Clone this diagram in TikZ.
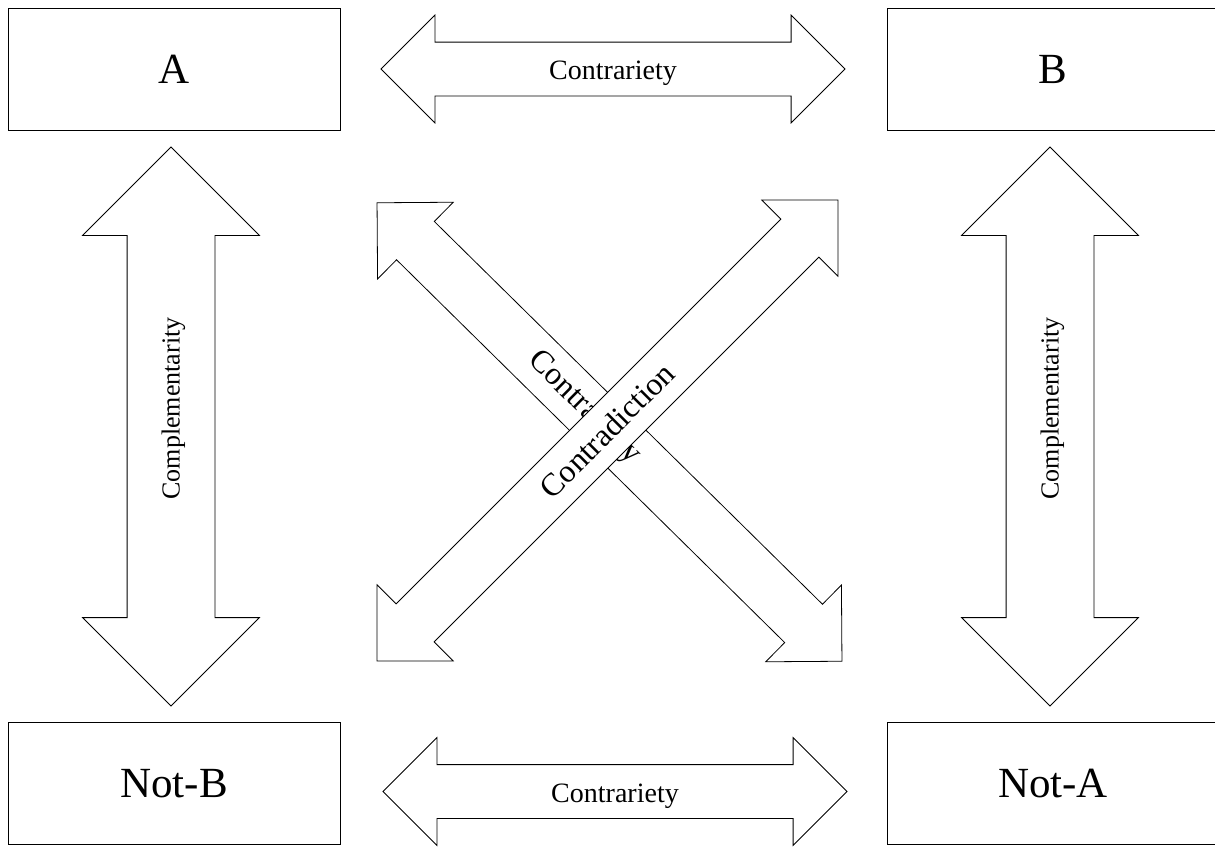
\documentclass[tikz,border=0pt]{standalone}
\usepackage{fontspec}
\setmainfont{Liberation Serif}
\usetikzlibrary{shapes.arrows, calc}

\begin{document}
\begin{tikzpicture}[x=1pt, y=-1pt,
    term/.style={draw, line width=1pt, minimum width=332pt, minimum height=122pt, inner sep=0pt, font=\fontsize{43}{50}\selectfont},
    rel/.style={draw, fill=white, double arrow, double arrow tip angle=90, inner sep=0pt, line width=0.8pt},
    flat/.style={rel, minimum width=107pt, double arrow head extend=27pt, text height=37pt, text depth=16pt},
    tall/.style={rel, minimum width=176pt, double arrow head extend=44.5pt, text height=52pt, text depth=35pt,
      minimum height=559pt, rotate=90, font=\fontsize{26}{30}\selectfont}]
  \useasboundingbox (0,0) rectangle (1215,847);
  % the four terms
  \node[term] (a)    at (174,69)     {A};
  \node[term] (b)    at (1053,69)    {B};
  \node[term] (notb) at (174,783.5)  {Not-B};
  \node[term] (nota) at (1053,783.5) {Not-A};
  % contrariety, top and bottom
  \node[flat, minimum height=464pt, font=\fontsize{28}{32}\selectfont] (ctop) at (613,69)    {Contrariety};
  \node[flat, minimum height=464pt, font=\fontsize{28}{32}\selectfont] (cbot) at (615,791.5) {Contrariety};
  % complementarity, left and right
  \node[tall] (cleft)  at (171,426.5)  {\hspace{36pt}Complementarity};
  \node[tall] (cright) at (1050,426.5) {\hspace{36pt}Complementarity};
  % the two diagonals, contradiction on top
  \node[flat, minimum height=653pt, rotate=-44.6] (dcontr) at (609.5,432) {};
  \node[rotate=-44.6, inner sep=0pt, font=\fontsize{32}{36}\selectfont] (dcontrlbl) at (584,408) {Contrariety};
  \node[flat, minimum height=652pt, rotate=45, font=\fontsize{32}{36}\selectfont] (dcontra) at (607.5,430.5) {Contradiction};
\end{tikzpicture}
\end{document}
